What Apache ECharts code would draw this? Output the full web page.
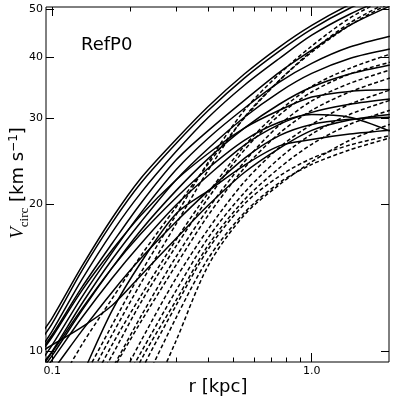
<!DOCTYPE html>
<html><head><meta charset="utf-8">
<script src="https://cdn.jsdelivr.net/npm/echarts@6/dist/echarts.min.js"></script>
<style>html,body{margin:0;padding:0;background:#fff}#c{width:394px;height:399px}</style>
</head><body><div id="c"></div>
<script>
// radii (kpc) at which every curve is sampled
const radii = [0.09, 0.1, 0.13, 0.17, 0.22, 0.3, 0.4, 0.55, 0.75, 1.0, 1.4, 2.0];

// solid curves, V_circ (km/s)
const solid01 = [10.8, 11.7, 14.9, 18.7, 22.6, 27.1, 31.7, 36.9, 41.9, 46.4, 51.2, 55.8];
const solid02 = [10.5, 11.4, 14.6, 18.3, 22.1, 26.6, 31.1, 36.2, 41.1, 45.6, 50.3, 54.7];
const solid03 = [10.1, 11.0, 14.0, 17.5, 21.1, 25.6, 30.1, 35.0, 39.7, 44.3, 48.9, 53.2];
const solid04 = [10.0, 10.8, 13.5, 16.6, 20.1, 24.6, 28.3, 32.6, 37.2, 41.3, 46.4, 50.8];
const solid05 = [9.5, 10.3, 12.9, 15.9, 19.2, 23.5, 27.3, 31.4, 35.5, 38.8, 41.9, 44.1];
const solid06 = [9.3, 10.0, 12.5, 15.4, 18.4, 22.4, 26.0, 30.1, 33.9, 37.0, 39.7, 41.5];
const solid07 = [9.1, 9.8, 12.1, 14.8, 17.7, 21.3, 24.8, 28.6, 32.0, 34.7, 36.9, 38.5];
const solid08 = [9.9, 10.7, 13.3, 16.1, 19.0, 22.4, 25.4, 28.6, 31.1, 33.1, 34.0, 34.3];
const solid09 = [8.9, 9.6, 11.7, 14.1, 16.6, 19.9, 22.9, 26.4, 29.1, 30.8, 32.0, 32.8];
const solid10 = [8.5, 9.1, 11.0, 13.2, 15.5, 18.4, 21.3, 24.8, 27.6, 29.1, 29.8, 30.1];
const solid11 = [9.2, 9.95, 12.2, 14.8, 17.4, 20.6, 23.7, 27.0, 29.4, 30.5, 30.1, 28.2];
const solid12 = [5.7, 6.6, 8.9, 12.1, 15.2, 19.1, 21.3, 24.0, 26.3, 27.1, 27.8, 28.3];
const solid13 = [9.95, 10.3, 11.2, 12.4, 14.3, 17.0, 19.9, 23.2, 26.0, 28.3, 29.7, 30.5];

// dashed curves, V_circ (km/s)
const dashed01 = [7.4, 8.1, 10.3, 12.8, 15.7, 19.7, 24.2, 30.0, 35.8, 40.9, 46.4, 51.5];
const dashed02 = [6.2, 6.9, 8.7, 11.3, 14.5, 19.0, 24.4, 31.1, 36.9, 42.1, 48.0, 53.2];
const dashed03 = [5.9, 6.6, 8.3, 10.8, 13.8, 18.2, 23.5, 30.1, 35.8, 41.1, 46.9, 52.0];
const dashed04 = [5.7, 6.3, 7.9, 10.3, 13.0, 16.9, 21.1, 26.3, 31.0, 34.8, 37.9, 40.5];
const dashed05 = [5.3, 5.8, 7.6, 9.8, 12.6, 16.4, 20.6, 25.8, 30.4, 33.9, 36.9, 39.0];
const dashed06 = [5.1, 5.6, 7.2, 9.2, 11.8, 15.6, 19.6, 24.4, 29.0, 32.5, 35.3, 37.6];
const dashed07 = [5.0, 5.4, 7.1, 9.1, 11.5, 15.0, 19.0, 23.7, 27.9, 31.1, 33.9, 36.2];
const dashed08 = [4.5, 5.0, 6.3, 8.1, 10.5, 14.1, 17.8, 22.2, 26.1, 29.1, 32.0, 34.2];
const dashed09 = [4.3, 4.7, 6.0, 7.8, 9.95, 13.3, 17.1, 21.1, 24.8, 27.8, 30.5, 32.6];
const dashed10 = [4.0, 4.4, 5.6, 7.2, 9.6, 12.7, 16.5, 20.4, 23.7, 26.5, 29.1, 31.1];
const dashed11 = [3.2, 3.6, 4.7, 6.6, 9.1, 12.4, 16.2, 20.0, 22.8, 24.8, 26.4, 27.6];
const dashed12 = [3.0, 3.2, 4.3, 6.0, 8.3, 11.7, 15.5, 19.2, 22.1, 24.1, 25.8, 27.3];
const dashed13 = [2.1, 2.4, 3.4, 5.0, 7.2, 10.5, 15.0, 19.0, 21.9, 24.4, 27.0, 29.1];

// ticks
const xMajorTicks = [0.1, 1.0];
const xMinorTicks = [0.2, 0.3, 0.4, 0.5, 0.6, 0.7, 0.8, 0.9];
const yTicks = [10, 20, 30, 40, 50];

const solidCurves = [solid01, solid02, solid03, solid04, solid05, solid06, solid07,
  solid08, solid09, solid10, solid11, solid12, solid13];
const dashedCurves = [dashed01, dashed02, dashed03, dashed04, dashed05, dashed06, dashed07,
  dashed08, dashed09, dashed10, dashed11, dashed12, dashed13];

const X_MIN = 0.0946, X_MAX = 1.985, Y_MIN = 9.5, Y_MAX = 50.6;
const FONT = '"DejaVu Sans", sans-serif';

function mkSeries(vals, dashed) {
  return {
    type: 'line', xAxisIndex: 0, yAxisIndex: 0,
    data: radii.map((r, i) => [r, vals[i]]),
    showSymbol: false, symbol: 'none', smooth: 0.3, clip: true, silent: true,
    lineStyle: { color: '#000', width: 1.5, type: dashed ? [4, 2.5] : 'solid' }
  };
}

function xAxisDef(pos, ticks, len, labels) {
  return {
    type: 'log', logBase: 10, min: X_MIN, max: X_MAX, position: pos, gridIndex: 0,
    axisLine: { show: false },
    axisTick: { show: true, inside: true, length: len, customValues: ticks, lineStyle: { color: '#000', width: 1 } },
    axisLabel: { show: labels, customValues: ticks, margin: 4, color: '#000', fontSize: 11, fontFamily: FONT,
      formatter: v => (v >= 0.99 ? v.toFixed(1) : String(+v.toFixed(2))) },
    splitLine: { show: false }, minorTick: { show: false }
  };
}
function yAxisDef(pos, labels) {
  return {
    type: 'log', logBase: 10, min: Y_MIN, max: Y_MAX, position: pos, gridIndex: 0,
    axisLine: { show: false },
    axisTick: { show: true, inside: true, length: 8, customValues: yTicks, lineStyle: { color: '#000', width: 1 } },
    axisLabel: { show: labels, customValues: yTicks, margin: 3, color: '#000', fontSize: 11, fontFamily: FONT,
      formatter: v => String(Math.round(v)) },
    splitLine: { show: false }, minorTick: { show: false }
  };
}

const chart = echarts.init(document.getElementById('c'), null, { renderer: 'canvas' });

// y label pieces measured for layout
const ctx = document.createElement('canvas').getContext('2d');
function tw(t, f) { ctx.font = f; return ctx.measureText(t).width; }
const fV = 'italic 19px "Liberation Serif"';
const fSub = '13px "Liberation Serif"';
const fMain = '18px "DejaVu Sans"';
const fSup = '12px "DejaVu Sans"';
const parts = [
  { t: 'V', f: fV, dy: 0 },
  { t: 'circ', f: fSub, dy: 4 },
  { t: ' [km s', f: fMain, dy: 0 },
  { t: '\u22121', f: fSup, dy: -7 },
  { t: ']', f: fMain, dy: 0 }
];
let acc = 0;
const ylabChildren = parts.map(p => {
  const el = { type: 'text', x: acc, y: p.dy, style: { text: p.t, font: p.f, fill: '#000', verticalAlign: 'bottom', align: 'left' } };
  acc += tw(p.t, p.f);
  return el;
});
const yCenter = 183;

chart.setOption({
  animation: false,
  backgroundColor: '#fff',
  grid: { left: 46, right: 5, top: 7, bottom: 37, show: true, borderColor: '#000', borderWidth: 1,
    containLabel: false, outerBoundsMode: 'none' },
  xAxis: [
    xAxisDef('bottom', xMajorTicks, 9, true),
    xAxisDef('bottom', xMinorTicks, 4.5, false),
    xAxisDef('top', xMajorTicks, 9, false),
    xAxisDef('top', xMinorTicks, 4.5, false)
  ],
  yAxis: [yAxisDef('left', true), yAxisDef('right', false)],
  series: solidCurves.map(v => mkSeries(v, false)).concat(dashedCurves.map(v => mkSeries(v, true))),
  graphic: [
    { type: 'text', left: 81, top: 36, style: { text: 'RefP0', font: '18px "DejaVu Sans"', fill: '#000' } },
    { type: 'text', x: 218, y: 396, style: { text: 'r [kpc]', font: '18px "DejaVu Sans"', fill: '#000', align: 'center', verticalAlign: 'bottom' } },
    { type: 'group', x: 27, y: yCenter + acc / 2, rotation: Math.PI / 2, children: ylabChildren }
  ]
});
</script>
</body></html>
